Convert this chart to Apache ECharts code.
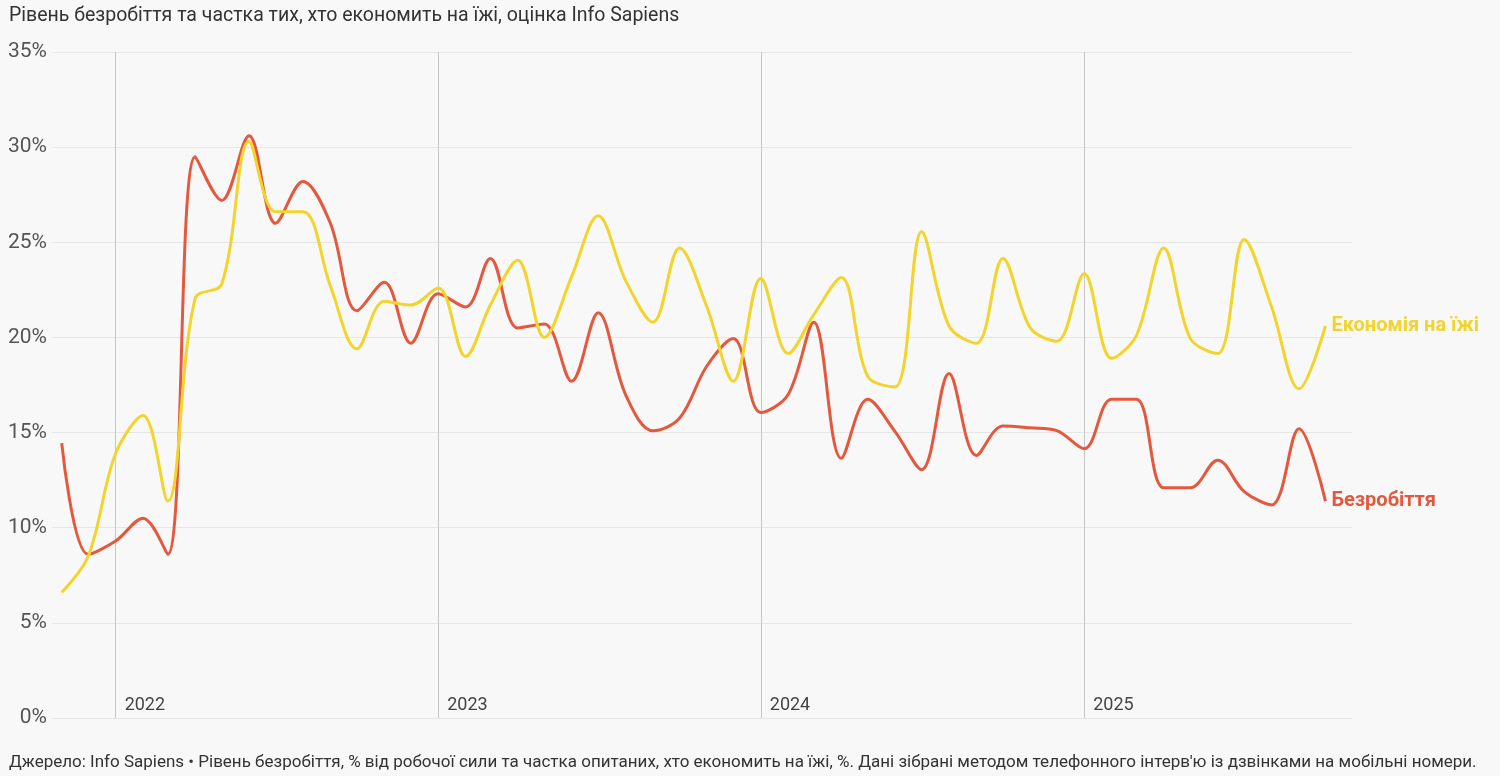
<!DOCTYPE html>
<html>
<head>
<meta charset="utf-8">
<script src="https://cdn.jsdelivr.net/npm/echarts@6/dist/echarts.min.js"></script>
<style>
  html, body { margin: 0; padding: 0; background: #f8f8f8; }
  #chart { width: 1500px; height: 776px; }
</style>
</head>
<body>
<div id="chart"></div>
<script>
const months = [
  '2021-11','2021-12',
  '2022-01','2022-02','2022-03','2022-04','2022-05','2022-06','2022-07','2022-08','2022-09','2022-10','2022-11','2022-12',
  '2023-01','2023-02','2023-03','2023-04','2023-05','2023-06','2023-07','2023-08','2023-09','2023-10','2023-11','2023-12',
  '2024-01','2024-02','2024-03','2024-04','2024-05','2024-06','2024-07','2024-08','2024-09','2024-10','2024-11','2024-12',
  '2025-01','2025-02','2025-03','2025-04','2025-05','2025-06','2025-07','2025-08','2025-09','2025-10'
];
const unemployment = [
  14.45, 8.6,
  9.3, 10.5, 8.6, 29.5, 27.2, 30.6, 26.0, 28.2, 26.0, 21.4, 22.9, 19.7,
  22.3, 21.6, 24.15, 20.5, 20.7, 17.7, 21.3, 17.0, 15.1, 15.75, 18.5, 19.95,
  16.05, 17.0, 20.8, 13.65, 16.75, 15.05, 13.05, 18.1, 13.8, 15.35, 15.25, 15.1,
  14.15, 16.75, 16.75, 12.1, 12.1, 13.55, 11.9, 11.2, 15.2, 11.4
];
const foodSaving = [
  6.6, 8.5,
  13.9, 15.9, 11.4, 22.05, 22.8, 30.3, 26.6, 26.6, 22.7, 19.4, 21.9, 21.7,
  22.6, 19.0, 21.7, 24.05, 20.0, 23.2, 26.4, 23.0, 20.8, 24.7, 21.6, 17.7,
  23.1, 19.15, 21.2, 23.15, 17.95, 17.4, 25.55, 20.6, 19.7, 24.15, 20.5, 19.8,
  23.35, 18.9, 20.1, 24.7, 19.95, 19.15, 25.15, 21.6, 17.3, 20.6
];
const seriesNames = ['Безробіття', 'Економія на їжі'];
const titleText = 'Рівень безробіття та частка тих, хто економить на їжі, оцінка Info Sapiens';
const footerText = "Джерело: Info Sapiens • Рівень безробіття, % від робочої сили та частка опитаних, хто економить на їжі, %. Дані зібрані методом телефонного інтерв'ю із дзвінками на мобільні номери.";

const toPairs = (vals) => months.map((m, i) => [m + '-01', vals[i]]);
const FONT = 'Roboto, "Noto Sans", sans-serif';
const RED = '#e4583e';
const YELLOW = '#f3d42c';

const chart = echarts.init(document.getElementById('chart'), null, { renderer: 'canvas' });
chart.setOption({
  backgroundColor: '#f8f8f8',
  animation: false,
  textStyle: { fontFamily: FONT },
  title: [{
    text: titleText,
    left: 4, top: 1,
    textStyle: { fontSize: 19.5, fontWeight: 'normal', color: '#333', fontFamily: FONT }
  }, {
    text: footerText,
    left: 4, top: 749,
    textStyle: { fontSize: 17, fontWeight: 'normal', color: '#333', fontFamily: FONT }
  }],
  grid: { left: 52, right: 148, top: 52, bottom: 58, containLabel: false },
  xAxis: {
    type: 'time',
    min: Date.UTC(2021, 9, 21),
    max: Date.UTC(2025, 9, 31),
    minInterval: 365 * 24 * 3600 * 1000,
    maxInterval: 366 * 24 * 3600 * 1000,
    axisLine: { show: false },
    axisTick: { show: false },
    splitLine: { show: true, showMinLine: false, showMaxLine: false, lineStyle: { color: '#c6c6c6', width: 1 } },
    axisLabel: {
      inside: true,
      formatter: '{yyyy}',
      align: 'left',
      verticalAlign: 'bottom',
      padding: [0, 0, 0, 9],
      margin: 4,
      fontSize: 18,
      color: '#444',
      fontFamily: FONT
    }
  },
  yAxis: {
    type: 'value',
    min: 0, max: 35, interval: 5,
    axisLine: { show: false },
    axisTick: { show: false },
    splitLine: { show: true, lineStyle: { color: '#e6e6e6', width: 1 } },
    axisLabel: {
      formatter: '{value}%',
      fontSize: 21,
      color: '#555',
      margin: 5,
      fontFamily: FONT
    }
  },
  series: [{
    name: seriesNames[0],
    type: 'line',
    data: toPairs(unemployment),
    smooth: 0.35,
    showSymbol: false,
    symbol: 'none',
    lineStyle: { color: RED, width: 3 },
    itemStyle: { color: RED },
    endLabel: {
      show: true, formatter: '{a}', color: RED, fontWeight: 'bold',
      fontSize: 20, distance: 6, fontFamily: FONT
    },
    z: 3
  }, {
    name: seriesNames[1],
    type: 'line',
    data: toPairs(foodSaving),
    smooth: 0.35,
    showSymbol: false,
    symbol: 'none',
    lineStyle: { color: YELLOW, width: 3 },
    itemStyle: { color: YELLOW },
    endLabel: {
      show: true, formatter: '{a}', color: YELLOW, fontWeight: 'bold',
      fontSize: 20, distance: 6, fontFamily: FONT
    },
    z: 4
  }]
});
</script>
</body>
</html>
